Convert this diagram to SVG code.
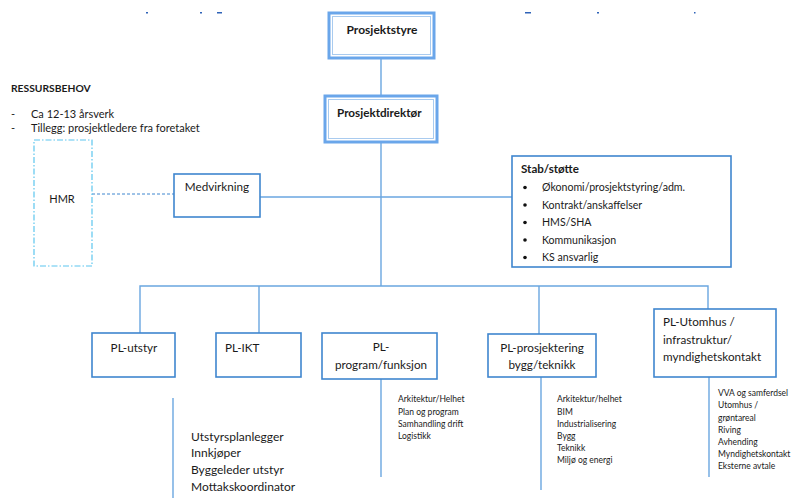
<svg xmlns="http://www.w3.org/2000/svg" width="791" height="500" viewBox="0 0 791 500">
<style>
text{font-family:Lato,"Liberation Sans",sans-serif;fill:#1a1a1a}
.b{font-weight:bold}
.box{fill:#fff;stroke:#3f86cf;stroke-width:1.6}
.ln{stroke:#6aa6e0;stroke-width:1.4;fill:none}
.dbl{fill:#fff;stroke:#6aa6ea;stroke-width:3}
.dbli{fill:none;stroke:#a9cbef;stroke-width:1}
.s12{font-size:12px}
.s11{font-size:11px}
.s117{font-size:11.7px}
.s10{font-size:10.6px}
.s8{font-size:8.5px}
</style>
<rect width="791" height="500" fill="#fff"/>
<g id="fragments" fill="#2f63b8">
<rect x="146" y="12" width="2" height="1.5"/>
<rect x="200" y="12" width="2" height="1.5"/>
<rect x="217" y="12" width="5" height="1.5"/>
<rect x="525" y="12" width="6" height="1.5"/>
<rect x="597" y="12" width="2" height="1.5"/>
<rect x="694" y="12" width="1.5" height="1.5"/>
</g>
<g id="connectors">
<line class="ln" x1="381" y1="58" x2="381" y2="96"/>
<line class="ln" x1="381" y1="142" x2="381" y2="286"/>
<line class="ln" x1="260" y1="197" x2="512" y2="197"/>
<line x1="92" y1="194" x2="174" y2="194" stroke="#3f86cf" stroke-width="1" stroke-dasharray="3,2"/>
<polyline class="ln" points="140,333 140,286 708,286 708,309"/>
<line class="ln" x1="259" y1="286" x2="259" y2="333"/>
<line class="ln" x1="539" y1="286" x2="539" y2="334"/>
<line class="ln" x1="381" y1="379" x2="381" y2="477"/>
<line class="ln" x1="541" y1="377" x2="541" y2="490"/>
<line class="ln" x1="709" y1="377" x2="709" y2="477"/>
<line class="ln" x1="173" y1="398" x2="173" y2="498"/>
</g>
<g id="ressurs">
<text class="b" x="11" y="92" font-size="10.3">RESSURSBEHOV</text>
<text class="s11" x="11" y="118">-</text>
<text class="s11" x="31" y="118">Ca 12-13 årsverk</text>
<text class="s11" x="11" y="132">-</text>
<text class="s11" x="31" y="132">Tillegg: prosjektledere fra foretaket</text>
</g>
<g id="prosjektstyre">
<rect class="dbl" x="329" y="13" width="105" height="45"/>
<rect class="dbli" x="332.5" y="16.5" width="98" height="38"/>
<text class="b s12" x="382" y="34" text-anchor="middle">Prosjektstyre</text>
</g>
<g id="prosjektdirektor">
<rect class="dbl" x="325" y="96" width="112" height="46"/>
<rect class="dbli" x="328.5" y="99.5" width="105" height="39"/>
<text class="b s117" x="337" y="117">Prosjektdirektør</text>
</g>
<g id="hmr">
<rect x="34" y="140" width="58" height="126" fill="none" stroke="#5cc6ef" stroke-width="1.2" stroke-dasharray="6,2,1.5,2"/>
<text class="s11" x="62" y="203" text-anchor="middle">HMR</text>
</g>
<g id="medvirkning">
<rect class="box" x="174" y="174" width="86" height="43"/>
<text class="s117" x="217" y="191" text-anchor="middle">Medvirkning</text>
</g>
<g id="stab">
<rect class="box" x="512" y="156" width="219" height="111"/>
<text class="b" font-size="11.6" x="521" y="173">Stab/støtte</text>
<g class="s10">
<circle cx="525" cy="187.5" r="1.8" fill="#111"/><text x="542" y="191">Økonomi/prosjektstyring/adm.</text>
<circle cx="525" cy="205" r="1.8" fill="#111"/><text x="542" y="208.5">Kontrakt/anskaffelser</text>
<circle cx="525" cy="222.5" r="1.8" fill="#111"/><text x="542" y="226">HMS/SHA</text>
<circle cx="525" cy="240" r="1.8" fill="#111"/><text x="542" y="243.5">Kommunikasjon</text>
<circle cx="525" cy="257.5" r="1.8" fill="#111"/><text x="542" y="261">KS ansvarlig</text>
</g>
</g>
<g id="pl-utstyr">
<rect class="box" x="92" y="333" width="83" height="44"/>
<text class="s117" x="134" y="352" text-anchor="middle">PL-utstyr</text>
</g>
<g id="pl-ikt">
<rect class="box" x="216" y="333" width="85" height="44"/>
<text class="s117" x="225" y="352">PL-IKT</text>
</g>
<g id="pl-program">
<rect class="box" x="322" y="333" width="115" height="46"/>
<text class="s117" x="381" y="351" text-anchor="middle">PL-</text>
<text class="s117" x="381" y="369" text-anchor="middle">program/funksjon</text>
</g>
<g id="pl-prosjektering">
<rect class="box" x="488" y="334" width="108" height="43"/>
<text class="s117" x="542" y="352" text-anchor="middle">PL-prosjektering</text>
<text class="s117" x="542" y="369" text-anchor="middle">bygg/teknikk</text>
</g>
<g id="pl-utomhus">
<rect class="box" x="654" y="309" width="122" height="68"/>
<text class="s117" x="663" y="326">PL-Utomhus /</text>
<text class="s117" x="663" y="344">infrastruktur/</text>
<text class="s117" x="663" y="361">myndighetskontakt</text>
</g>
<g id="lists">
<g class="s12">
<text x="191" y="441">Utstyrsplanlegger</text>
<text x="191" y="457">Innkjøper</text>
<text x="191" y="474">Byggeleder utstyr</text>
<text x="191" y="491">Mottakskoordinator</text>
</g>
<g class="s8">
<text x="398" y="402">Arkitektur/Helhet</text>
<text x="398" y="415">Plan og program</text>
<text x="398" y="427">Samhandling drift</text>
<text x="398" y="439">Logistikk</text>
<text x="557" y="402">Arkitektur/helhet</text>
<text x="557" y="415">BIM</text>
<text x="557" y="427">Industrialisering</text>
<text x="557" y="439">Bygg</text>
<text x="557" y="451">Teknikk</text>
<text x="557" y="463">Miljø og energi</text>
<text x="718" y="396">VVA og samferdsel</text>
<text x="718" y="408">Utomhus /</text>
<text x="718" y="421">grøntareal</text>
<text x="718" y="433">Riving</text>
<text x="718" y="445">Avhending</text>
<text x="718" y="457">Myndighetskontakt</text>
<text x="718" y="469">Eksterne avtale</text>
</g>
</g>
</svg>
